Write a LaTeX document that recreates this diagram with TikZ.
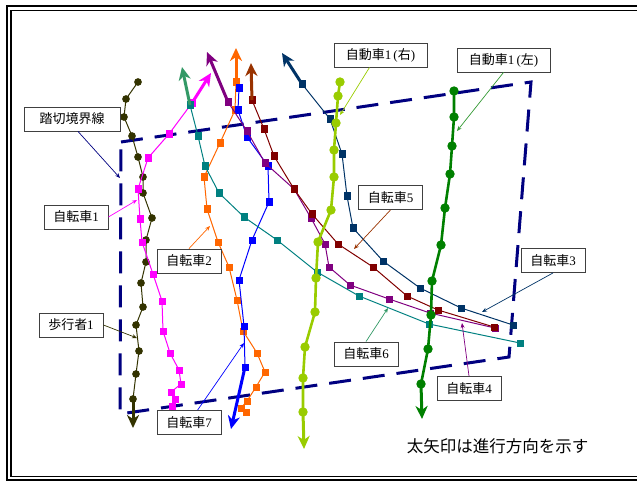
\documentclass[tikz,border=0pt]{standalone}
\usepackage{fontspec}
\setmainfont{Liberation Serif}
\newfontfamily\cjk{Noto Sans CJK JP}
\usetikzlibrary{arrows.meta,calc,plotmarks}
\definecolor{ped}{HTML}{333300}
\definecolor{carR}{HTML}{99CC00}
\definecolor{carL}{HTML}{008000}
\definecolor{bkA}{HTML}{FF00FF}
\definecolor{bkB}{HTML}{FF6600}
\definecolor{bkC}{HTML}{003366}
\definecolor{bkD}{HTML}{800080}
\definecolor{bkE}{HTML}{800000}
\definecolor{bkEarr}{HTML}{993300}
\definecolor{bkF}{HTML}{008080}
\definecolor{bkFarr}{HTML}{339966}
\definecolor{bkG}{HTML}{0000FF}
\definecolor{bnd}{HTML}{000080}
\definecolor{leadL}{HTML}{339933}
\tikzset{
  track/.style={line width=1pt},
  cartrack/.style={line width=2.6pt},
  sqmk/.style={mark=square*, mark size=3.2pt, mark options={solid, line width=0.6pt}},
  cmk/.style={mark=*, mark size=3.3pt},
  bigarrow/.style={line width=3pt, -{Stealth[length=13pt,width=12pt,inset=4pt]}},
  lbl/.style={draw=black!75, fill=white, line width=0.9pt, minimum width=64pt,
    minimum height=24pt, inner sep=0pt, font=\fontsize{13}{13}\selectfont},
  lead/.style={line width=0.7pt, -{Stealth[length=5pt,width=4pt]}},
  bound/.style={bnd, line width=3pt, dash pattern=on 22pt off 12pt}
}
\begin{document}
\begin{tikzpicture}[x=1pt,y=-1pt]
\useasboundingbox (0,0) rectangle (637,481);
% frame
\draw[line width=2pt] (645,6.5) -- (7,6.5) -- (7,480) -- (645,480);
\draw[line width=1.3pt] (645,10.5) -- (11,10.5) -- (11,476.5) -- (645,476.5);
% crossing boundary
\draw[bound] (121,142) -- (531,82) -- (509,357) -- (120,414) -- cycle;
% pedestrian 1
\draw[ped, track] plot[cmk] coordinates {(133,399) (136,374) (139,351) (136,325) (143,307) (141,283) (146,262) (146,240) (152,218) (143,193) (143,177) (138,157) (132,136) (124,117) (126,99) (138,82)};
\draw[ped, bigarrow] (133,399) -- (133,428);
% bike 1
\draw[bkA, track] plot[sqmk] coordinates {(172,406) (175,399) (171,392) (181,384) (179,370) (170,353) (163,331) (162,301) (153,274) (142,242) (140,219) (138,189) (148,158) (169,134) (192,103)};
\draw[bkA, bigarrow] (192,103) -- (211,73);
% bike 2
\draw[bkB, track] plot[sqmk] coordinates {(246,412) (241,408) (247,401) (256,387) (265,372) (257,353) (243,331) (237,300) (229,267) (218,242) (207,209) (204,177) (220,143) (235,110) (236,82)};
\draw[bkB, bigarrow] (236,82) -- (236,48);
% bike 7
\draw[bkG, track] plot[sqmk] coordinates {(239,88) (238,110) (247,137) (268,166) (269,202) (252,240) (239,280) (244,326) (245,367)};
\draw[bkG, bigarrow] (245,367) -- (231,429);
% bike 6
\draw[bkF, track] plot[sqmk] coordinates {(520,343) (429,324) (359,296) (317,272) (277,240) (244,217) (219,193) (205,166) (198,136) (190,105)};
\draw[bkFarr, bigarrow] (190,105) -- (182,67);
% bike 4
\draw[bkD, track] plot[sqmk] coordinates {(495,328) (430,313) (389,299) (350,285) (329,267) (325,244) (311,218) (294,189) (265,163) (247,131) (228,102)};
\draw[bkD, bigarrow] (228,102) -- (207,52);
% bike 5
\draw[bkE, track] plot[sqmk] coordinates {(494,327) (438,310) (407,296) (373,267) (338,244) (312,214) (294,189) (274,156) (264,129) (252,100)};
\draw[bkEarr, bigarrow] (252,100) -- (251,63);
% bike 3
\draw[bkC, track] plot[sqmk] coordinates {(513,325) (461,308) (420,288) (383,261) (353,228) (347,196) (342,154) (330,119) (302,84)};
\draw[bkC, bigarrow] (302,84) -- (282,53);
% car 1 right
\draw[carR, cartrack] plot[cmk] coordinates {(340,82) (338,96) (336,123) (334,150) (334,177) (331,210) (318,242) (316,278) (315,312) (305,347) (303,378) (303,412)};
\draw[carR, bigarrow] (303,412) -- (304,449);
% car 1 left
\draw[carL, cartrack] plot[cmk] coordinates {(454,91) (454,117) (452,146) (450,174) (445,208) (441,245) (432,281) (431,315) (428,349) (421,384)};
\draw[carL, bigarrow] (421,384) -- (422,419);
% labels
\node[lbl, minimum width=96pt] (lbd) at (72,119) {\cjk 踏切境界線};
\node[lbl] (lb1) at (76,217) {{\cjk 自転車}1};
\node[lbl] (lb2) at (189,261) {{\cjk 自転車}2};
\node[lbl] (lp1) at (71,325) {{\cjk 歩行者}1};
\node[lbl] (lb7) at (189,422.5) {{\cjk 自転車}7};
\node[lbl, minimum width=93pt] (lcr) at (380.5,55) {{\cjk 自動車}1\,({\cjk 右})};
\node[lbl, minimum width=93pt] (lcl) at (503.5,60) {{\cjk 自動車}1\,({\cjk 左})};
\node[lbl] (lb5) at (390.5,197.5) {{\cjk 自転車}5};
\node[lbl] (lb3) at (553,260.5) {{\cjk 自転車}3};
\node[lbl] (lb6) at (366,354) {{\cjk 自転車}6};
\node[lbl] (lb4) at (469,388.5) {{\cjk 自転車}4};
% leader tips
\coordinate (tbd) at (120,178);
\coordinate (tb1) at (137,200);
\coordinate (tb2) at (210,226);
\coordinate (tp1) at (137,338);
\coordinate (tb7) at (244,343);
\coordinate (tcr) at (340,115);
\coordinate (tcl) at (457,131);
\coordinate (tb5) at (354,249);
\coordinate (tb3) at (482,312);
\coordinate (tb6) at (388,308);
\coordinate (tb4) at (462,323);
% leaders
\draw[lead, bnd] ($(lbd.south)+(6,0)$) -- (tbd);
\draw[lead, bkA] (lb1.east) -- (tb1);
\draw[lead, bkB] (lb2.north) -- (tb2);
\draw[lead, ped] (lp1.east) -- (tp1);
\draw[lead, bkG] (lb7) -- (tb7);
\draw[lead, carR] ($(lcr.south)+(-11,0)$) -- (tcr);
\draw[lead, leadL] (lcl.south) -- (tcl);
\draw[lead, bkEarr] (lb5.south) -- (tb5);
\draw[lead, bkC] (lb3.south) -- (tb3);
\draw[lead, bkFarr] (lb6.north) -- (tb6);
\draw[lead, bkD] (lb4.north) -- (tb4);
% note
\node[font=\cjk\fontsize{16.5}{16.5}\selectfont, inner sep=0pt] (note) at (497.5,446) {太矢印は進行方向を示す};
\end{tikzpicture}
\end{document}
